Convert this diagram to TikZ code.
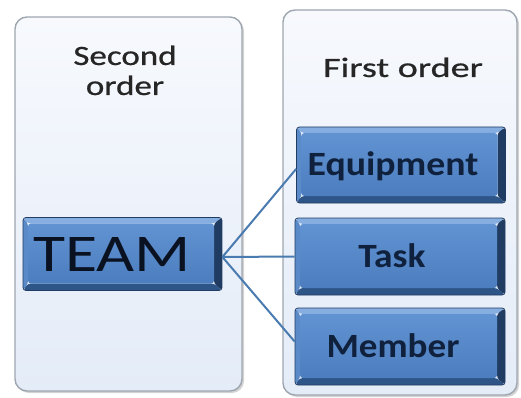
\documentclass[tikz,border=0pt]{standalone}
\usepackage{fontspec}
\setmainfont{Carlito}
\newfontfamily\semib{Carlito}[FakeBold=0.6]
\usetikzlibrary{shadows}
\definecolor{paneltop}{HTML}{F7F9FD}
\definecolor{panelbot}{HTML}{E4ECF8}
\definecolor{panelline}{HTML}{9EA6B0}
\definecolor{bevtop}{HTML}{86AEE0}
\definecolor{bevleft}{HTML}{5A8AC8}
\definecolor{bevbot}{HTML}{2E5588}
\definecolor{bevright}{HTML}{213C63}
\definecolor{facetop}{HTML}{6192D2}
\definecolor{facebot}{HTML}{4C7DBE}
\definecolor{boxtext}{HTML}{0F213D}
\definecolor{teamtext}{HTML}{0A1222}
\definecolor{linkcol}{HTML}{4A7BB0}
\definecolor{paneltext}{HTML}{262626}
\tikzset{
  panel/.style={rounded corners=12pt, draw=panelline, line width=1.4pt,
    top color=paneltop, bottom color=panelbot,
    drop shadow={shadow xshift=2pt, shadow yshift=-2pt, opacity=0.35, fill=gray}},
  bevelbox/.style={draw=bevright, line width=0.8pt, rounded corners=3pt, inner sep=0pt,
    text=boxtext, text depth=0pt,
    path picture={
      \fill[bevtop] (path picture bounding box.north west) -- (path picture bounding box.north east)
        -- ([xshift=-8pt,yshift=-6pt]path picture bounding box.north east)
        -- ([xshift=5pt,yshift=-6pt]path picture bounding box.north west) -- cycle;
      \fill[bevleft] (path picture bounding box.north west) -- ([xshift=5pt,yshift=-6pt]path picture bounding box.north west)
        -- ([xshift=5pt,yshift=7pt]path picture bounding box.south west)
        -- (path picture bounding box.south west) -- cycle;
      \fill[bevbot] (path picture bounding box.south west) -- ([xshift=5pt,yshift=7pt]path picture bounding box.south west)
        -- ([xshift=-8pt,yshift=7pt]path picture bounding box.south east)
        -- (path picture bounding box.south east) -- cycle;
      \fill[bevright] (path picture bounding box.south east) -- ([xshift=-8pt,yshift=7pt]path picture bounding box.south east)
        -- ([xshift=-8pt,yshift=-6pt]path picture bounding box.north east)
        -- (path picture bounding box.north east) -- cycle;
      \shade[top color=facetop, bottom color=facebot]
        ([xshift=5pt,yshift=-6pt]path picture bounding box.north west)
        rectangle ([xshift=-8pt,yshift=7pt]path picture bounding box.south east);
    }},
  firstbox/.style={bevelbox, text height=21.5pt, font=\bfseries\fontsize{34}{36}\selectfont},
  link/.style={draw=linkcol, line width=2pt},
  ptext/.style={text=paneltext, font=\semib\fontsize{28}{32}\selectfont, inner sep=0pt}
}
\newcommand{\wideby}[2]{\scalebox{#1}[1]{#2}}
\begin{document}
\begin{tikzpicture}[x=1pt, y=-1pt]
\useasboundingbox (0,0) rectangle (521,398);
% panels
\path[panel] (15,17) rectangle (242,391);
\path[panel] (283,10) rectangle (517,395);
% panel titles
\node[ptext, anchor=base] (second) at (125,65) {\wideby{1.25}{\begin{tabular}[t]{@{}c@{}}Second\\[-2pt]order\end{tabular}}};
\node[ptext, anchor=base] (first) at (403,77) {\wideby{1.36}{First order}};
% boxes
\node[bevelbox, minimum width=199pt, minimum height=73pt, text=teamtext, text height=34pt,
  font=\fontsize{53}{56}\selectfont] (team) at (122.5,254) {\wideby{1.24}{TEAM}\hspace*{21pt}};
\node[firstbox, minimum width=209pt, minimum height=76pt] (equip) at (401,165) {\wideby{1.11}{Equipment}\hspace*{16pt}};
\node[firstbox, minimum width=210pt, minimum height=77pt] (task) at (400,256.5) {\wideby{1.1}{Task}\hspace*{16pt}};
\node[firstbox, minimum width=210pt, minimum height=77pt] (member) at (400,346.5) {\wideby{1.09}{Member}\hspace*{14pt}};
% connectors
\draw[link] ([yshift=-3pt]team.east) -- ([yshift=-4pt]equip.west);
\draw[link] ([yshift=-3pt]team.east) -- (task.west);
\draw[link] ([yshift=-3pt]team.east) -- ([yshift=5pt]member.west);
\end{tikzpicture}
\end{document}
